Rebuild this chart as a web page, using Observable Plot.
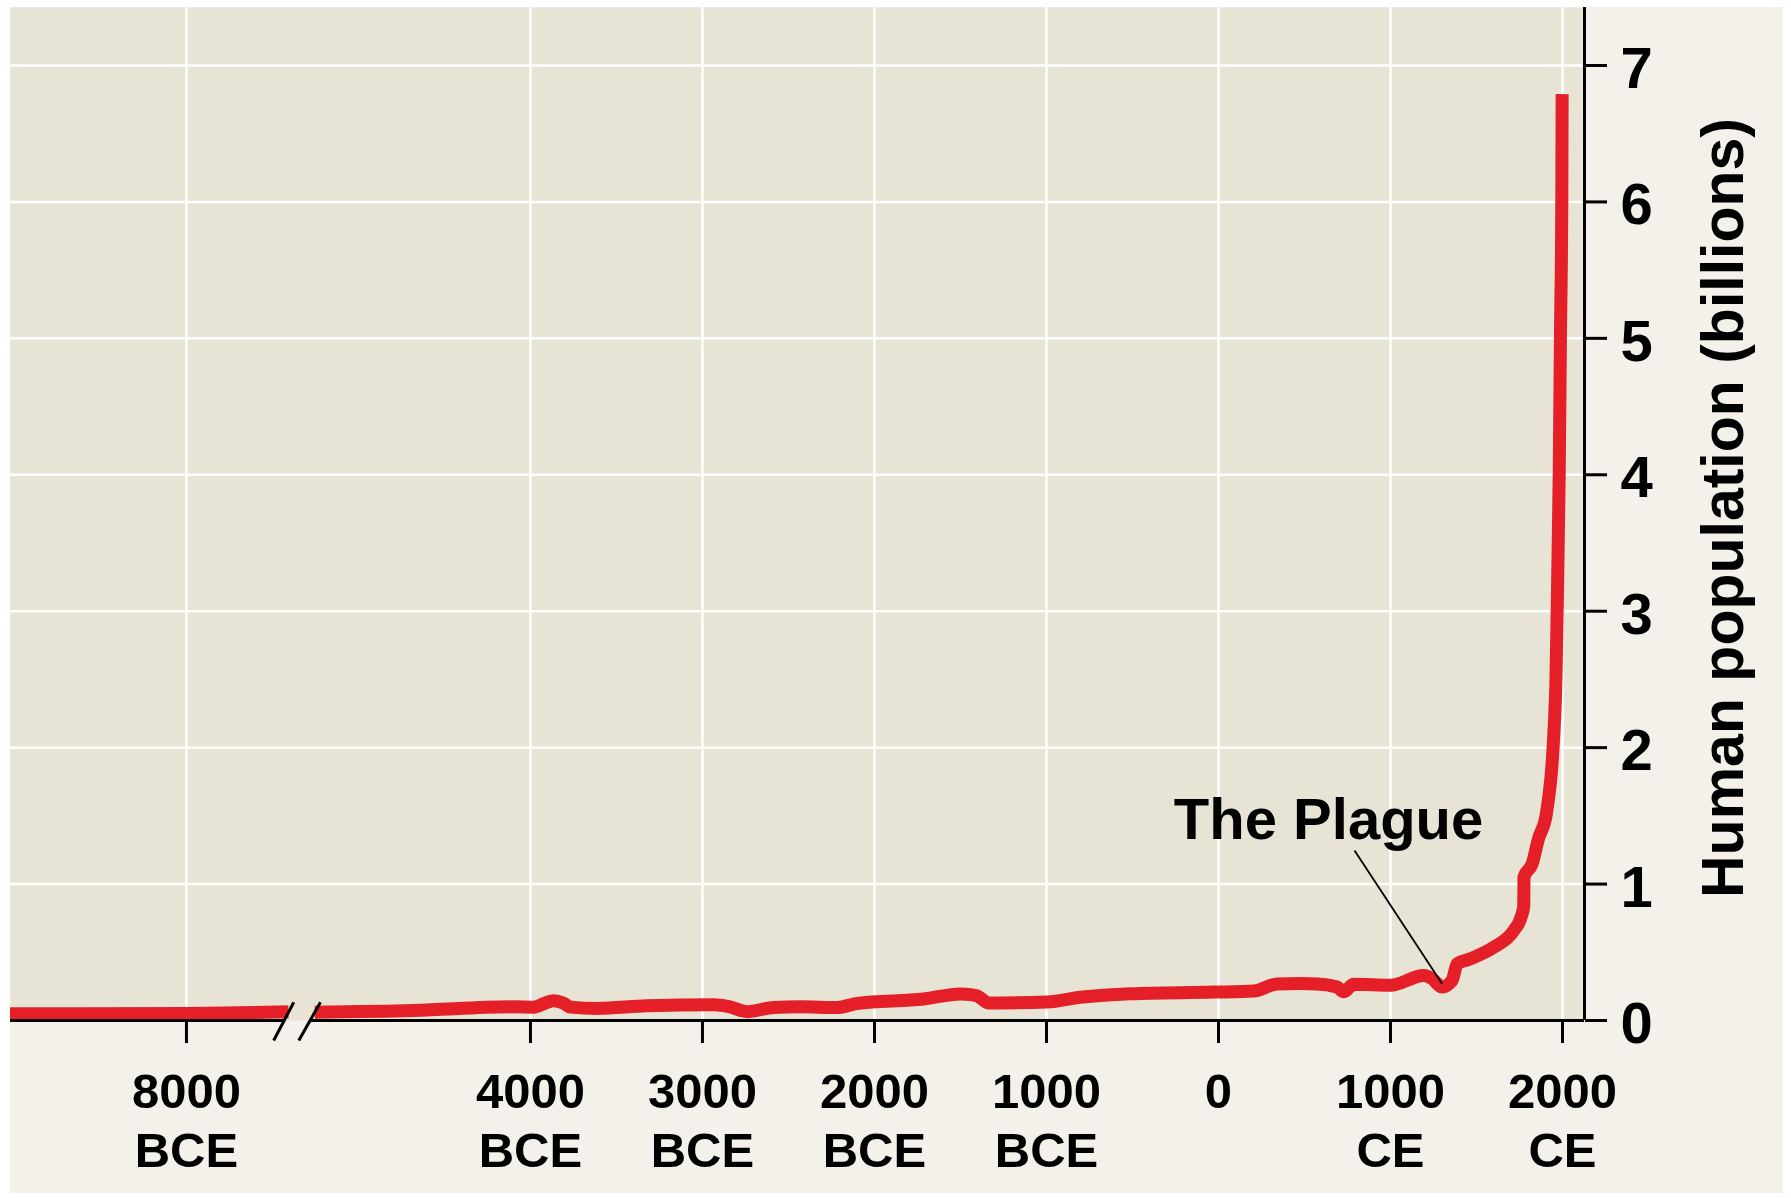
<!DOCTYPE html>
<html>
<head>
<meta charset="utf-8">
<script src="https://cdn.jsdelivr.net/npm/d3@7"></script>
<script src="https://cdn.jsdelivr.net/npm/@observablehq/plot@0.6"></script>
<style>
  html, body { margin: 0; padding: 0; background: #ffffff; }
  #chart { position: absolute; left: 10px; top: 7px; }
</style>
</head>
<body>
<div id="chart"></div>
<script>
// ---- Data (years: negative = BCE; null population = axis break) ----
const years = [
  -9100, -8600, -8000, -7700, -7407,
  -6500,
  -5254, -4678, -4097, -3981, -3920, -3864, -3810, -3767, -3612, -3322,
  -2934, -2840, -2740, -2585, -2430, -2217, -2101, -1713, -1500, -1440,
  -1403, -1335, -996, -802, -512, -27, 205, 341, 477, 574,
  690, 729, 786, 1000, 1194, 1242, 1300, 1358, 1388, 1465,
  1601, 1717, 1760, 1775, 1776, 1824, 1860, 1907, 1959, 1969,
  1981, 1988, 1996, 1998
];
const population = [
  0.050, 0.050, 0.052, 0.057, 0.064,
  null,
  0.061, 0.073, 0.100, 0.098, 0.125, 0.145, 0.128, 0.098, 0.088, 0.108,
  0.115, 0.100, 0.065, 0.096, 0.100, 0.095, 0.125, 0.158, 0.195, 0.190,
  0.180, 0.128, 0.135, 0.170, 0.196, 0.208, 0.216, 0.268, 0.272, 0.268,
  0.245, 0.210, 0.265, 0.258, 0.330, 0.306, 0.245, 0.293, 0.416, 0.452,
  0.537, 0.660, 0.760, 0.840, 1.050, 1.150, 1.330, 1.520, 2.360, 3.000,
  4.000, 5.000, 6.000, 6.790
];
const tickYears = [-8000, -4000, -3000, -2000, -1000, 0, 1000, 2000];
const tickLabels = ["8000\nBCE", "4000\nBCE", "3000\nBCE", "2000\nBCE", "1000\nBCE", "0", "1000\nCE", "2000\nCE"];
const yTicks = [0, 1, 2, 3, 4, 5, 6, 7];
const yTitle = "Human population (billions)";
const annotationText = "The Plague";
const annotationLabelAt = [640, 1.334];         // [year, billions]
const annotationLeader = [[791, 1.246], [1300, 0.27]];

// Broken x axis: years before the break are shifted 2000 years right
const toPos = yr => (yr < -6500 ? yr + 2000 : yr);
const data = years.map((yr, i) => ({pos: toPos(yr), pop: population[i]}));
const ticksPos = tickYears.map(toPos);
const labelFor = new Map(ticksPos.map((p, i) => [p, tickLabels[i]]));

const xDomain = [-7023, 2128];
const yDomain = [0, 7.425];
// axis break geometry (in axis units)
const axisSegments = [{x1: xDomain[0], x2: -5432}, {x1: -5281, x2: xDomain[1]}];
const breakSlashes = [
  {x1: -5376, y1: 0.134, x2: -5493, y2: -0.147},
  {x1: -5221, y1: 0.134, x2: -5347, y2: -0.147}
];

const chart = Plot.plot({
  width: 1773,
  height: 1186,
  marginLeft: 0,
  marginTop: 0,
  marginRight: 199,
  marginBottom: 173,
  x: {domain: xDomain, label: null},
  y: {domain: yDomain, label: null},
  style: {
    background: "#f3f1ea",
    color: "#000",
    fontFamily: "'Liberation Sans', Arial, Helvetica, sans-serif",
    fontWeight: "bold",
    overflow: "visible"
  },
  marks: [
    Plot.frame({fill: "#e7e4d5", stroke: null}),
    Plot.gridY({ticks: yTicks.filter(d => d > 0), stroke: "#ffffff", strokeOpacity: 1, strokeWidth: 2.5}),
    Plot.gridX({ticks: ticksPos, stroke: "#ffffff", strokeOpacity: 1, strokeWidth: 2.5}),
    Plot.line(data, {
      x: "pos", y: "pop",
      stroke: "#e41f27", strokeWidth: 13,
      curve: "monotone-x", clip: true,
      strokeLinecap: "butt", strokeLinejoin: "round"
    }),
    // axis lines
    Plot.ruleY(axisSegments, {y: 0, x1: "x1", x2: "x2", stroke: "#000", strokeWidth: 3}),
    Plot.ruleX([xDomain[1]], {y1: yDomain[0], y2: yDomain[1], stroke: "#000", strokeWidth: 3}),
    Plot.link(breakSlashes, {x1: "x1", y1: "y1", x2: "x2", y2: "y2", stroke: "#000", strokeWidth: 3}),
    // x axis
    Plot.axisX({
      ticks: ticksPos,
      tickFormat: d => labelFor.get(d),
      tickSize: 23, tickPadding: 23,
      fontSize: 49, lineHeight: 1.2,
      strokeWidth: 3, label: null
    }),
    // y axis ticks and labels
    Plot.axisY({anchor: "right", ticks: yTicks, tickSize: 22, strokeWidth: 3, fill: null, label: null}),
    Plot.axisY({anchor: "right", ticks: yTicks, tickSize: 0, tickPadding: 36, fontSize: 58, dy: 4, label: null, textAnchor: "start"}),
    // y axis title
    Plot.text([yTitle], {
      frameAnchor: "right", rotate: -90, dx: 140, dy: -6,
      textAnchor: "middle", lineAnchor: "middle",
      fontSize: 59, text: d => d
    }),
    // annotation
    Plot.link([annotationLeader], {
      x1: d => d[0][0], y1: d => d[0][1], x2: d => d[1][0], y2: d => d[1][1],
      stroke: "#000", strokeWidth: 1.8
    }),
    Plot.text([annotationText], {
      x: annotationLabelAt[0], y: annotationLabelAt[1], text: d => d,
      fontSize: 58, lineAnchor: "bottom", textAnchor: "middle"
    })
  ]
});
document.getElementById("chart").appendChild(chart);
</script>
</body>
</html>
